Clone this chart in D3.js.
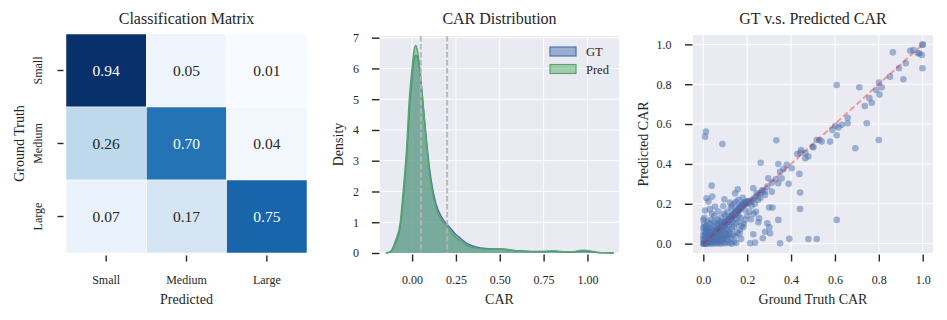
<!DOCTYPE html>
<head>
<meta charset="utf-8">
<style>
body {
  margin: 0;
  background: #fff;
  font-family: "Liberation Serif", "Times New Roman", serif;
}
text {
  fill: #262626;
}
.grid line {
  stroke: #fff;
  stroke-width: 1;
}
.tick line {
  stroke: #262626;
  stroke-width: 1.4;
}
</style>
</head>
<body>
<script src="https://cdnjs.cloudflare.com/ajax/libs/d3/7.8.5/d3.min.js"></script>
<script>
//
// Data
//
var classes = ["Small", "Medium", "Large"];
var confusion = [
  [0.94, 0.05, 0.01],
  [0.26, 0.70, 0.04],
  [0.07, 0.17, 0.75]
];

// KDE curves (CAR value, density)
var carX = [-0.15, -0.125, -0.093, -0.068, -0.05, -0.03, -0.017, 0.0, 0.01, 0.021, 0.03, 0.044, 0.061, 0.078,
  0.099, 0.115, 0.135, 0.17, 0.22, 0.25, 0.275, 0.32, 0.37, 0.42, 0.5, 0.55, 0.6, 0.68, 0.75, 0.8, 0.85,
  0.9, 0.95, 0.98, 1.02, 1.06, 1.1, 1.15];
var gtDensity = [0, 0.03, 0.35, 0.85, 1.8, 3.2, 4.5, 5.7, 6.25, 6.42, 6.38, 5.95, 4.95, 3.9,
  2.75, 2.15, 1.62, 1.15, 0.8, 0.6, 0.48, 0.29, 0.19, 0.15, 0.13, 0.1, 0.075, 0.05, 0.05, 0.055, 0.04,
  0.035, 0.05, 0.06, 0.04, 0.015, 0.005, 0];
var predDensity = [0, 0.04, 0.42, 0.97, 2.05, 3.5, 4.9, 6.0, 6.55, 6.75, 6.6, 6.0, 4.9, 3.83,
  2.6, 2.0, 1.5, 1.05, 0.72, 0.5, 0.4, 0.22, 0.15, 0.12, 0.14, 0.11, 0.07, 0.04, 0.05, 0.065, 0.045,
  0.03, 0.07, 0.09, 0.06, 0.02, 0.005, 0];
var thresholds = [0.05, 0.2];

// GT vs predicted CAR pairs
var scatterPoints = [
  [1.0,1.0],[0.999,0.997],[0.996,0.947],[0.999,0.88],[0.985,0.955],[0.978,0.955],[0.958,0.972],[0.943,0.968],
  [0.864,0.96],[0.923,0.905],[0.892,0.88],[0.851,0.838],[0.912,0.825],[0.801,0.808],[0.813,0.785],[0.788,0.771],
  [0.803,0.748],[0.757,0.73],[0.768,0.707],[0.736,0.691],[0.745,0.604],[0.711,0.785],[0.608,0.796],[0.658,0.632],
  [0.658,0.604],[0.631,0.596],[0.616,0.583],[0.602,0.591],[0.588,0.571],[0.608,0.544],[0.578,0.512],[0.8,0.52],
  [0.693,0.479],[0.54,0.512],[0.529,0.52],[0.517,0.52],[0.502,0.484],[0.498,0.486],[0.333,0.519],[0.087,0.5],
  [0.012,0.562],[0.008,0.537],[0.446,0.47],[0.608,0.119],[0.479,0.023],[0.517,0.023],[0.35,0.002],
  [0.442,0.457],[0.465,0.454],[0.479,0.437],[0.465,0.428],[0.429,0.45],[0.262,0.406],[0.342,0.4],[0.38,0.395],
  [0.403,0.378],[0.365,0.373],[0.35,0.361],[0.438,0.35],[0.389,0.3],[0.33,0.323],[0.357,0.328],[0.296,0.328],
  [0.312,0.306],[0.342,0.303],[0.292,0.286],[0.269,0.269],[0.441,0.256],[0.312,0.261],[0.228,0.278],[0.244,0.253],
  [0.157,0.273],[0.145,0.253],[0.281,0.244],[0.038,0.291],[0.041,0.236],[0.015,0.228],[0.023,0.211],[0.096,0.223],
  [0.122,0.206],[0.091,0.189],[0.068,0.161],[0.053,0.186],[0.008,0.166],[0.03,0.173],[0.3,0.181],[0.315,0.181],
  [0.441,0.174],[0.254,0.127],[0.217,0.122],[0.292,0.102],[0.342,0.119],[0.301,0.082],[0.281,0.06],[0.304,0.052],
  [0.271,0.027],[0.228,0.047],[0.392,0.024],[0.213,0.002],[0.236,0.005],[0.172,0.024],[0.182,0.082],[0.167,0.069],
  [0.19,0.119],[0.251,0.107],
  // diagonal band
  [0.0,0.0],[0.002,0.001],[0.004,0.003],[0.006,0.004],[0.008,0.006],[0.01,0.012],[0.012,0.009],[0.015,0.016],
  [0.018,0.014],[0.02,0.022],[0.022,0.019],[0.025,0.027],[0.028,0.024],[0.03,0.033],[0.033,0.029],[0.035,0.038],
  [0.038,0.035],[0.04,0.044],[0.043,0.04],[0.045,0.049],[0.048,0.045],[0.05,0.055],[0.053,0.05],[0.056,0.06],
  [0.06,0.057],[0.063,0.068],[0.066,0.063],[0.07,0.075],[0.073,0.07],[0.076,0.082],[0.08,0.077],[0.083,0.089],
  [0.086,0.084],[0.09,0.096],[0.093,0.09],[0.097,0.104],[0.1,0.098],[0.104,0.111],[0.107,0.105],[0.111,0.119],
  [0.114,0.112],[0.118,0.127],[0.121,0.12],[0.125,0.134],[0.128,0.127],[0.132,0.142],[0.135,0.135],[0.139,0.15],
  [0.142,0.143],[0.146,0.158],[0.149,0.151],[0.153,0.166],[0.156,0.16],[0.16,0.174],[0.163,0.168],[0.167,0.183],
  [0.17,0.177],[0.174,0.192],[0.178,0.186],[0.182,0.2],[0.186,0.196],[0.19,0.206],[0.195,0.2],[0.2,0.21],
  [0.205,0.203],[0.21,0.214],[0.216,0.21],[0.222,0.218],[0.23,0.226],[0.24,0.235],[0.25,0.245],[0.26,0.255],
  [0.27,0.264],
  [0.005,0.0],[0.007,0.008],[0.011,0.004],[0.014,0.011],[0.017,0.02],[0.021,0.015],[0.024,0.021],[0.027,0.03],
  [0.031,0.026],[0.034,0.033],[0.037,0.041],[0.041,0.037],[0.044,0.046],[0.047,0.052],[0.051,0.047],[0.055,0.057],
  [0.058,0.064],[0.062,0.06],[0.065,0.07],[0.068,0.066],[0.072,0.079],[0.075,0.073],[0.079,0.085],[0.082,0.08],
  [0.088,0.093],[0.091,0.087],[0.095,0.1],[0.099,0.094],[0.102,0.107],[0.106,0.114],[0.109,0.108],[0.113,0.121],
  [0.117,0.116],[0.12,0.13],[0.124,0.122],[0.127,0.137],[0.131,0.13],[0.134,0.146],[0.138,0.14],[0.141,0.153],
  [0.145,0.147],[0.148,0.162],[0.152,0.155],[0.155,0.17],[0.159,0.164],[0.162,0.178],[0.166,0.172],[0.169,0.187],
  [0.173,0.18],[0.177,0.196],[0.181,0.19],[0.185,0.205],[0.189,0.198],[0.193,0.211],[0.198,0.205],[0.203,0.213],
  // below the diagonal
  [0.01,0.0],[0.02,0.0],[0.03,0.002],[0.04,0.0],[0.05,0.003],[0.06,0.001],[0.07,0.004],[0.08,0.0],
  [0.09,0.006],[0.1,0.002],[0.11,0.008],[0.12,0.003],[0.13,0.0],[0.14,0.01],[0.15,0.004],[0.045,0.015],
  [0.055,0.02],[0.065,0.012],[0.075,0.025],[0.085,0.018],[0.095,0.03],[0.105,0.022],[0.115,0.035],[0.125,0.028],
  [0.135,0.045],[0.145,0.038],[0.155,0.055],[0.165,0.05],[0.175,0.09],[0.185,0.1],[0.12,0.06],[0.13,0.075],
  [0.14,0.085],[0.15,0.1],[0.16,0.11],[0.17,0.13],[0.2,0.14],[0.21,0.16],[0.06,0.035],[0.08,0.045],
  [0.1,0.055],[0.11,0.07],[0.09,0.065],[0.07,0.05],[0.035,0.02],[0.025,0.01],[0.015,0.005],[0.02,0.035],
  [0.125,0.1],[0.16,0.14],[0.19,0.17],[0.22,0.19],[0.235,0.2],[0.25,0.22],[0.26,0.23],[0.28,0.26],
  [0.23,0.15],[0.24,0.16],
  [0.035,0.008],[0.052,0.01],[0.062,0.024],[0.078,0.012],[0.088,0.03],[0.098,0.044],[0.108,0.04],[0.118,0.05],
  [0.03,0.015],[0.042,0.028],[0.068,0.038],[0.082,0.06],[0.1,0.075],[0.115,0.09],[0.132,0.11],[0.145,0.125],
  // above the diagonal
  [0.0,0.02],[0.0,0.04],[0.002,0.06],[0.0,0.08],[0.004,0.1],[0.0,0.12],[0.005,0.13],[0.01,0.03],
  [0.012,0.05],[0.01,0.07],[0.015,0.09],[0.02,0.11],[0.02,0.045],[0.025,0.065],[0.03,0.08],[0.03,0.1],
  [0.035,0.12],[0.04,0.07],[0.045,0.09],[0.05,0.11],[0.055,0.08],[0.06,0.1],[0.065,0.12],[0.07,0.095],
  [0.075,0.11],[0.08,0.13],[0.085,0.11],[0.05,0.14],[0.04,0.15],[0.1,0.14],[0.11,0.16],[0.095,0.15],
  [0.125,0.18],[0.14,0.2],[0.15,0.21],[0.16,0.22],[0.18,0.23],[0.13,0.19],
  [0.003,0.025],[0.008,0.045],[0.006,0.085],[0.014,0.06],[0.018,0.075],[0.024,0.05],[0.028,0.058],[0.036,0.06]
];

var densityTicks = [0, 1, 2, 3, 4, 5, 6, 7];
var carTicks = [0, 0.25, 0.5, 0.75, 1.0];
var unitTicks = [0, 0.2, 0.4, 0.6, 0.8, 1.0];

var BLUE = "#4c72b0", GREEN = "#55a868", BG = "#eaeaf2";

var svg = d3.select("body").append("svg")
  .attr("width", 947)
  .attr("height", 320);

function title(x, txt) {
  svg.append("text").attr("x", x).attr("y", 23.5)
    .attr("text-anchor", "middle").style("font-size", "16px").text(txt);
}
function xlabel(x, txt) {
  svg.append("text").attr("x", x).attr("y", 304)
    .attr("text-anchor", "middle").style("font-size", "14px").text(txt);
}
function ylabel(x, y, txt) {
  svg.append("text").attr("transform", "translate(" + x + "," + y + ") rotate(-90)")
    .attr("text-anchor", "middle").style("font-size", "14px").text(txt);
}
function styleAxis(g) {
  g.attr("font-family", null).attr("font-size", null);
  g.select(".domain").remove();
  g.selectAll(".tick text").style("font-size", "12px").attr("fill", "#262626");
}

//
// Panel 1: classification matrix
//
var hx = d3.scaleBand().domain(classes).range([66, 307]);
var hy = d3.scaleBand().domain(classes).range([34, 253]);
var color = d3.scaleSequential(d3.interpolateBlues)
  .domain([d3.min(confusion, r => d3.min(r)), d3.max(confusion, r => d3.max(r))]);

var cells = [];
confusion.forEach(function(row, i) {
  row.forEach(function(v, j) { cells.push({r: classes[i], c: classes[j], v: v}); });
});

svg.append("g").selectAll("rect").data(cells).join("rect")
  .attr("x", d => hx(d.c)).attr("y", d => hy(d.r))
  .attr("width", hx.bandwidth()).attr("height", hy.bandwidth())
  .attr("fill", d => color(d.v))
  .attr("stroke", "#fff").attr("stroke-width", 0.5);

svg.append("g").selectAll("text").data(cells).join("text")
  .attr("x", d => hx(d.c) + hx.bandwidth() / 2)
  .attr("y", d => hy(d.r) + hy.bandwidth() / 2)
  .attr("dy", "0.35em")
  .attr("text-anchor", "middle")
  .style("font-size", "15.5px")
  .style("fill", d => d.v > 0.5 ? "#fff" : "#262626")
  .text(d => d.v.toFixed(2));

svg.append("g").attr("transform", "translate(0,255.5)")
  .call(d3.axisBottom(hx).tickSize(6).tickPadding(14).tickSizeOuter(0))
  .call(styleAxis);

var hyAxis = svg.append("g").attr("transform", "translate(63.5,0)")
  .call(d3.axisLeft(hy).tickSize(6).tickSizeOuter(0))
  .call(styleAxis);
hyAxis.selectAll(".tick text")
  .attr("x", 0).attr("dy", 0)
  .attr("text-anchor", "middle")
  .attr("transform", "translate(-21.5,0) rotate(-90)");

title(186.5, "Classification Matrix");
xlabel(186.5, "Predicted");
ylabel(23.5, 143.5, "Ground Truth");

//
// Panel 2: CAR distribution
//
var kx = d3.scaleLinear().domain([-0.183, 1.18]).range([380, 619]);
var ky = d3.scaleLinear().domain([0, 7.055]).range([253, 36]);

svg.append("rect").attr("x", 380).attr("y", 36).attr("width", 239).attr("height", 217).attr("fill", BG);

var g2 = svg.append("g").attr("class", "grid");
g2.selectAll(".gx").data(carTicks).join("line")
  .attr("x1", d => kx(d)).attr("x2", d => kx(d)).attr("y1", 36).attr("y2", 253);
g2.selectAll(".gy").data(densityTicks).join("line")
  .attr("x1", 380).attr("x2", 619).attr("y1", d => ky(d)).attr("y2", d => ky(d));

var area = d3.area()
  .x((d, i) => kx(carX[i]))
  .y0(ky(0))
  .y1(d => ky(d))
  .curve(d3.curveMonotoneX);
var line = d3.line()
  .x((d, i) => kx(carX[i]))
  .y(d => ky(d))
  .curve(d3.curveMonotoneX);

[[gtDensity, BLUE], [predDensity, GREEN]].forEach(function(s) {
  svg.append("path").attr("d", area(s[0])).attr("fill", s[1]).attr("fill-opacity", 0.5);
  svg.append("path").attr("d", line(s[0])).attr("fill", "none").attr("stroke", s[1]).attr("stroke-width", 1.5);
});

svg.append("g").selectAll("line").data(thresholds).join("line")
  .attr("x1", d => kx(d)).attr("x2", d => kx(d)).attr("y1", 36).attr("y2", 253)
  .attr("stroke", "#b4b4b8").attr("stroke-opacity", 0.9).attr("stroke-width", 2)
  .attr("stroke-dasharray", "5.5,2.5");

// legend
var legend = svg.append("g");
[["GT", BLUE], ["Pred", GREEN]].forEach(function(s, i) {
  legend.append("rect").attr("x", 550).attr("y", 47 + i * 17.5).attr("width", 26).attr("height", 9)
    .attr("fill", s[1]).attr("fill-opacity", 0.5).attr("stroke", s[1]).attr("stroke-width", 1.2);
  legend.append("text").attr("x", 586).attr("y", 56 + i * 17.5)
    .style("font-size", "12.5px").text(s[0]);
});

svg.append("g").attr("transform", "translate(0,254.5)")
  .call(d3.axisBottom(kx).tickValues(carTicks).tickFormat(d3.format(".2f")).tickSize(7).tickPadding(14).tickSizeOuter(0))
  .call(styleAxis);
svg.append("g").attr("transform", "translate(379.5,0)")
  .call(d3.axisLeft(ky).tickValues(densityTicks).tickFormat(d3.format("d")).tickSize(7.5).tickPadding(13).tickSizeOuter(0))
  .call(styleAxis);

title(499.5, "CAR Distribution");
xlabel(499.5, "CAR");
ylabel(343, 144.5, "Density");

//
// Panel 3: GT vs predicted scatter
//
var sx = d3.scaleLinear().domain([-0.047, 1.047]).range([693, 933]);
var sy = d3.scaleLinear().domain([-0.047, 1.047]).range([253, 35]);

svg.append("rect").attr("x", 693).attr("y", 35).attr("width", 240).attr("height", 218).attr("fill", BG);

var g3 = svg.append("g").attr("class", "grid");
g3.selectAll(".gx").data(unitTicks).join("line")
  .attr("x1", d => sx(d)).attr("x2", d => sx(d)).attr("y1", 35).attr("y2", 253);
g3.selectAll(".gy").data(unitTicks).join("line")
  .attr("x1", 693).attr("x2", 933).attr("y1", d => sy(d)).attr("y2", d => sy(d));

svg.append("g").selectAll("circle").data(scatterPoints).join("circle")
  .attr("cx", d => sx(d[0])).attr("cy", d => sy(d[1])).attr("r", 3.3)
  .attr("fill", BLUE).attr("fill-opacity", 0.5);

svg.append("line")
  .attr("x1", sx(0)).attr("y1", sy(0)).attr("x2", sx(1)).attr("y2", sy(1))
  .attr("stroke", "#ff0000").attr("stroke-opacity", 0.35).attr("stroke-width", 2)
  .attr("stroke-dasharray", "6,3");

svg.append("g").attr("transform", "translate(0,254.5)")
  .call(d3.axisBottom(sx).tickValues(unitTicks).tickFormat(d3.format(".1f")).tickSize(7).tickPadding(14).tickSizeOuter(0))
  .call(styleAxis);
svg.append("g").attr("transform", "translate(692.5,0)")
  .call(d3.axisLeft(sy).tickValues(unitTicks).tickFormat(d3.format(".1f")).tickSize(7.5).tickPadding(13.5).tickSizeOuter(0))
  .call(styleAxis);

title(813, "GT v.s. Predicted CAR");
xlabel(813, "Ground Truth CAR");
ylabel(648, 144, "Predicted CAR");
</script>
</body>
